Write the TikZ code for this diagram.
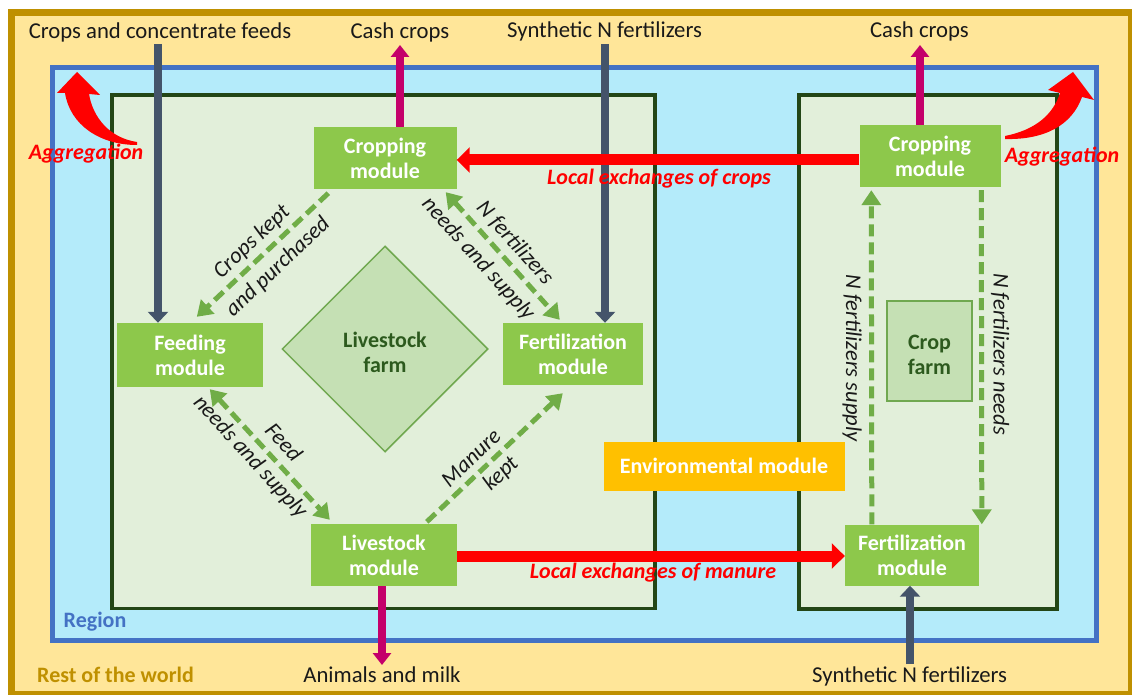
\documentclass[tikz,border=0pt]{standalone}
\usepackage{fontspec}
\setmainfont{Carlito}
\usetikzlibrary{arrows.meta,calc,shapes.geometric}
\definecolor{outerfill}{RGB}{255,230,153}
\definecolor{goldline}{RGB}{191,144,0}
\definecolor{regionfill}{RGB}{180,235,250}
\definecolor{regionblue}{RGB}{68,114,196}
\definecolor{farmfill}{RGB}{226,239,218}
\definecolor{farmdark}{RGB}{35,70,22}
\definecolor{modgreen}{RGB}{141,200,75}
\definecolor{diafill}{RGB}{197,224,180}
\definecolor{diaedge}{RGB}{112,168,80}
\definecolor{diatext}{RGB}{45,90,30}
\definecolor{dashgreen}{RGB}{112,173,71}
\definecolor{navy}{RGB}{68,84,106}
\definecolor{magent}{RGB}{196,0,106}
\definecolor{envorange}{RGB}{255,192,0}
\definecolor{txtdark}{RGB}{25,25,25}
\newcommand\myfs{\fontsize{22}{25}\selectfont}
\newcommand\mytopfs{\fontsize{22.7}{25}\selectfont}
\begin{document}
\begin{tikzpicture}[x=1pt,y=-1pt,
  module/.style={fill=modgreen, text=white, font=\myfs\bfseries, align=center, inner sep=0pt},
  farmlbl/.style={text=diatext, font=\myfs\bfseries, align=center, inner sep=0pt},
  toplbl/.style={text=txtdark, font=\mytopfs, anchor=base, inner sep=0pt},
  redlbl/.style={text=red, font=\myfs\bfseries\itshape, anchor=base, inner sep=0pt},
  rotlbl/.style={text=txtdark, font=\fontsize{22.5}{25}\selectfont\itshape, inner sep=0pt},
  navyarr/.style={draw=navy, line width=8pt, -{Triangle[length=11pt,width=20pt]}},
  magarr/.style={draw=magent, line width=8pt, -{Triangle[length=12pt,width=18pt]}},
  redarr/.style={draw=red, line width=11pt, -{Triangle[length=13pt,width=25pt]}},
  dasharr/.style={draw=dashgreen, line width=5pt, dash pattern=on 12pt off 6pt, -{Triangle[length=15pt,width=19pt]}},
  dashboth/.style={draw=dashgreen, line width=5pt, dash pattern=on 12pt off 6pt, {Triangle[length=15pt,width=19pt]}-{Triangle[length=15pt,width=19pt]}}
]
\useasboundingbox (0,0) rectangle (1132,695);
\fill[white] (0,0) rectangle (1132,695);
% frames
\draw[goldline, line width=7pt, fill=outerfill] (11.5,12.5) rectangle (1131,694);
\draw[regionblue, line width=5pt, fill=regionfill] (52,68) rectangle (1096,640);
\draw[farmdark, line width=3.5pt, fill=farmfill] (112,95) rectangle (655,608.5);
\draw[farmdark, line width=3.5pt, fill=farmfill] (799,95) rectangle (1057,609);

% farm shapes
\node[diamond, aspect=1, draw=diaedge, line width=1.5pt, fill=diafill, minimum width=206pt, minimum height=206pt, inner sep=0pt] (lsfarm) at (385,349) {};
\node[farmlbl] (lsfarmtxt) at (385,352) {Livestock\\farm};
\node[draw=diaedge, line width=1.5pt, fill=diafill, minimum width=85pt, minimum height=100pt, inner sep=0pt] (cropfarm) at (929.5,351) {};
\node[farmlbl] (cropfarmtxt) at (929.5,355) {Crop\\farm};

% modules
\node[module, minimum width=143pt, minimum height=62pt] (cropL) at (385,158) {Cropping\\module};
\node[module, minimum width=146pt, minimum height=64pt] (feed) at (190,355) {Feeding\\module};
\node[module, minimum width=140pt, minimum height=62pt] (fertL) at (573,354) {Fertilization\\module};
\node[module, minimum width=146pt, minimum height=62pt] (live) at (384,555) {Livestock\\module};
\node[module, minimum width=141pt, minimum height=62pt] (cropR) at (930,156) {Cropping\\module};
\node[module, minimum width=134pt, minimum height=61pt] (fertR) at (912,555) {Fertilization\\module};
\node[module, fill=envorange, minimum width=241pt, minimum height=49pt] (env) at (724,466) {Environmental module};

% coordinates for free ends
\coordinate (srcA) at (158,44);
\coordinate (srcB) at (605,44);
\coordinate (srcC) at (910,664);
\coordinate (outA) at (400,45);
\coordinate (outB) at (920,45);
\coordinate (outC) at (382,665);
\coordinate (ycrop) at (0,160);
\coordinate (ymanure) at (0,556);

% navy arrows
\draw[navyarr] (srcA) -- (srcA |- feed.north);
\draw[navyarr] (srcB) -- (srcB |- fertL.north);
\draw[navyarr] (srcC) -- (srcC |- fertR.south);
% magenta arrows
\draw[magarr] (outA |- cropL.north) -- (outA);
\draw[magarr] (outB |- cropR.north) -- (outB);
\draw[magarr] (outC |- live.south) -- (outC);
% red arrows
\draw[redarr] (cropR.west |- ycrop) -- (cropL.east |- ycrop);
\draw[redarr] (live.east |- ymanure) -- (fertR.west |- ymanure);

% dashed green arrows
\draw[dasharr] ($(cropL.south west)+(15,4)$) -- ($(feed.north west)+(80,-6)$);
\draw[dashboth] ($(cropL.south east)+(-11,3)$) -- ($(fertL.north west)+(57,-3)$);
\draw[dashboth] ($(feed.south west)+(93,2)$) -- ($(live.north west)+(19,-4)$);
\draw[dasharr] ($(live.north west)+(116,-2)$) -- ($(fertL.south west)+(60,8)$);
\draw[dasharr] ($(fertR.north west)+(27,0)$) -- ($(cropR.south west)+(12,3)$);
\draw[dasharr] ($(cropR.south west)+(122,3)$) -- ($(fertR.north west)+(137,0)$);

% aggregation arrows
\fill[red] (137,142) .. controls (110,138) and (93,118) .. (89,94) -- (100,95) -- (77,72) -- (57,93) -- (65,93) .. controls (70,125) and (100,145) .. (137,145) -- cycle;
\fill[red] (1005,136) .. controls (1035,130) and (1053,115) .. (1060,93) -- (1048,90) -- (1073,72) -- (1094,100) -- (1082,97) .. controls (1072,125) and (1045,140) .. (1005,139) -- cycle;

% labels
\node[toplbl] (lblA) at (160,39) {Crops and concentrate feeds};
\node[toplbl] (lblB) at (400,39) {Cash crops};
\node[toplbl] (lblC) at (604.5,38) {Synthetic N fertilizers};
\node[toplbl] (lblD) at (919.5,38) {Cash crops};
\node[toplbl] (lblE) at (382,682) {Animals and milk};
\node[toplbl] (lblF) at (909.6,682) {Synthetic N fertilizers};
\node[toplbl, text=regionblue, font=\myfs\bfseries] (lblRegion) at (95,627) {Region};
\node[toplbl, text=goldline, font=\myfs\bfseries] (lblWorld) at (115.5,682) {Rest of the world};
\node[redlbl] (aggL) at (86,160) {Aggregation};
\node[redlbl] (aggR) at (1062,163) {Aggregation};
\node[redlbl] (lexc) at (659,185) {Local exchanges of crops};
\node[redlbl] (lexm) at (653,578) {Local exchanges of manure};

\node[rotlbl, rotate=43.5] (r1a) at (252,242) {Crops kept};
\node[rotlbl, rotate=43.5] (r1b) at (278,267) {and purchased};
\node[rotlbl, rotate=-48] (r2a) at (515,243) {N fertilizers};
\node[rotlbl, rotate=-48] (r2b) at (478,259) {needs and supply};
\node[rotlbl, rotate=-47.5] (r3a) at (284,442) {Feed};
\node[rotlbl, rotate=-47.5] (r3b) at (250,457) {needs and supply};
\node[rotlbl, rotate=43.5] (r4a) at (471,458) {Manure};
\node[rotlbl, rotate=43.5] (r4b) at (501,474) {kept};
\node[rotlbl, rotate=-90] (r5) at (852,358) {N fertilizers supply};
\node[rotlbl, rotate=-90] (r6) at (1000,354) {N fertilizers needs};
\end{tikzpicture}
\end{document}
